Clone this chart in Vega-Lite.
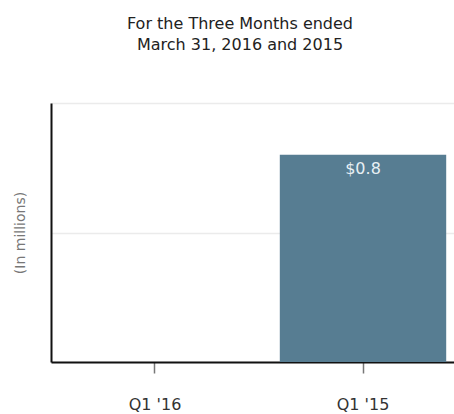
{
  "$schema": "https://vega.github.io/schema/vega-lite/v6.json",
  "autosize": "none",
  "width": 416,
  "height": 259,
  "padding": {"left": 51, "top": 103, "right": -13, "bottom": 52},
  "background": "white",
  "title": {
    "text": ["For the Three Months ended", "March 31, 2016 and 2015"],
    "font": "DejaVu Sans",
    "fontSize": 16,
    "fontWeight": "normal",
    "color": "#222222",
    "anchor": "middle",
    "dx": -19,
    "offset": 50,
    "lineHeight": 21
  },
  "data": {
    "values": [
      {"quarter": "Q1 '16", "value": 0, "label": ""},
      {"quarter": "Q1 '15", "value": 0.8, "label": "$0.8"}
    ]
  },
  "encoding": {
    "x": {
      "field": "quarter",
      "type": "nominal",
      "sort": ["Q1 '16", "Q1 '15"],
      "scale": {"paddingInner": 0.2, "paddingOuter": 0.1},
      "axis": {
        "title": null,
        "labelAngle": 0,
        "labelFont": "DejaVu Sans",
        "labelFontSize": 16,
        "labelColor": "#333333",
        "labelPadding": 23,
        "domainColor": "#111111",
        "domainWidth": 2,
        "tickColor": "#777777",
        "tickSize": 11,
        "tickWidth": 1.5
      }
    },
    "y": {
      "field": "value",
      "type": "quantitative",
      "scale": {"domain": [0, 1]},
      "axis": {
        "title": "(In millions)",
        "titleFont": "DejaVu Sans",
        "titleFontSize": 14,
        "titleFontWeight": "normal",
        "titleColor": "#777777",
        "titlePadding": 24,
        "labels": false,
        "ticks": false,
        "values": [0, 0.5, 1],
        "domainColor": "#111111",
        "domainWidth": 2,
        "gridColor": "#ebebeb",
        "gridWidth": 1.5
      }
    }
  },
  "layer": [
    {"mark": {"type": "bar", "color": "#577d92"}},
    {
      "mark": {"type": "text", "baseline": "top", "dy": 6, "color": "#e8f0f4", "font": "DejaVu Sans", "fontSize": 16},
      "encoding": {"text": {"field": "label"}}
    }
  ],
  "config": {"view": {"stroke": null}}
}
